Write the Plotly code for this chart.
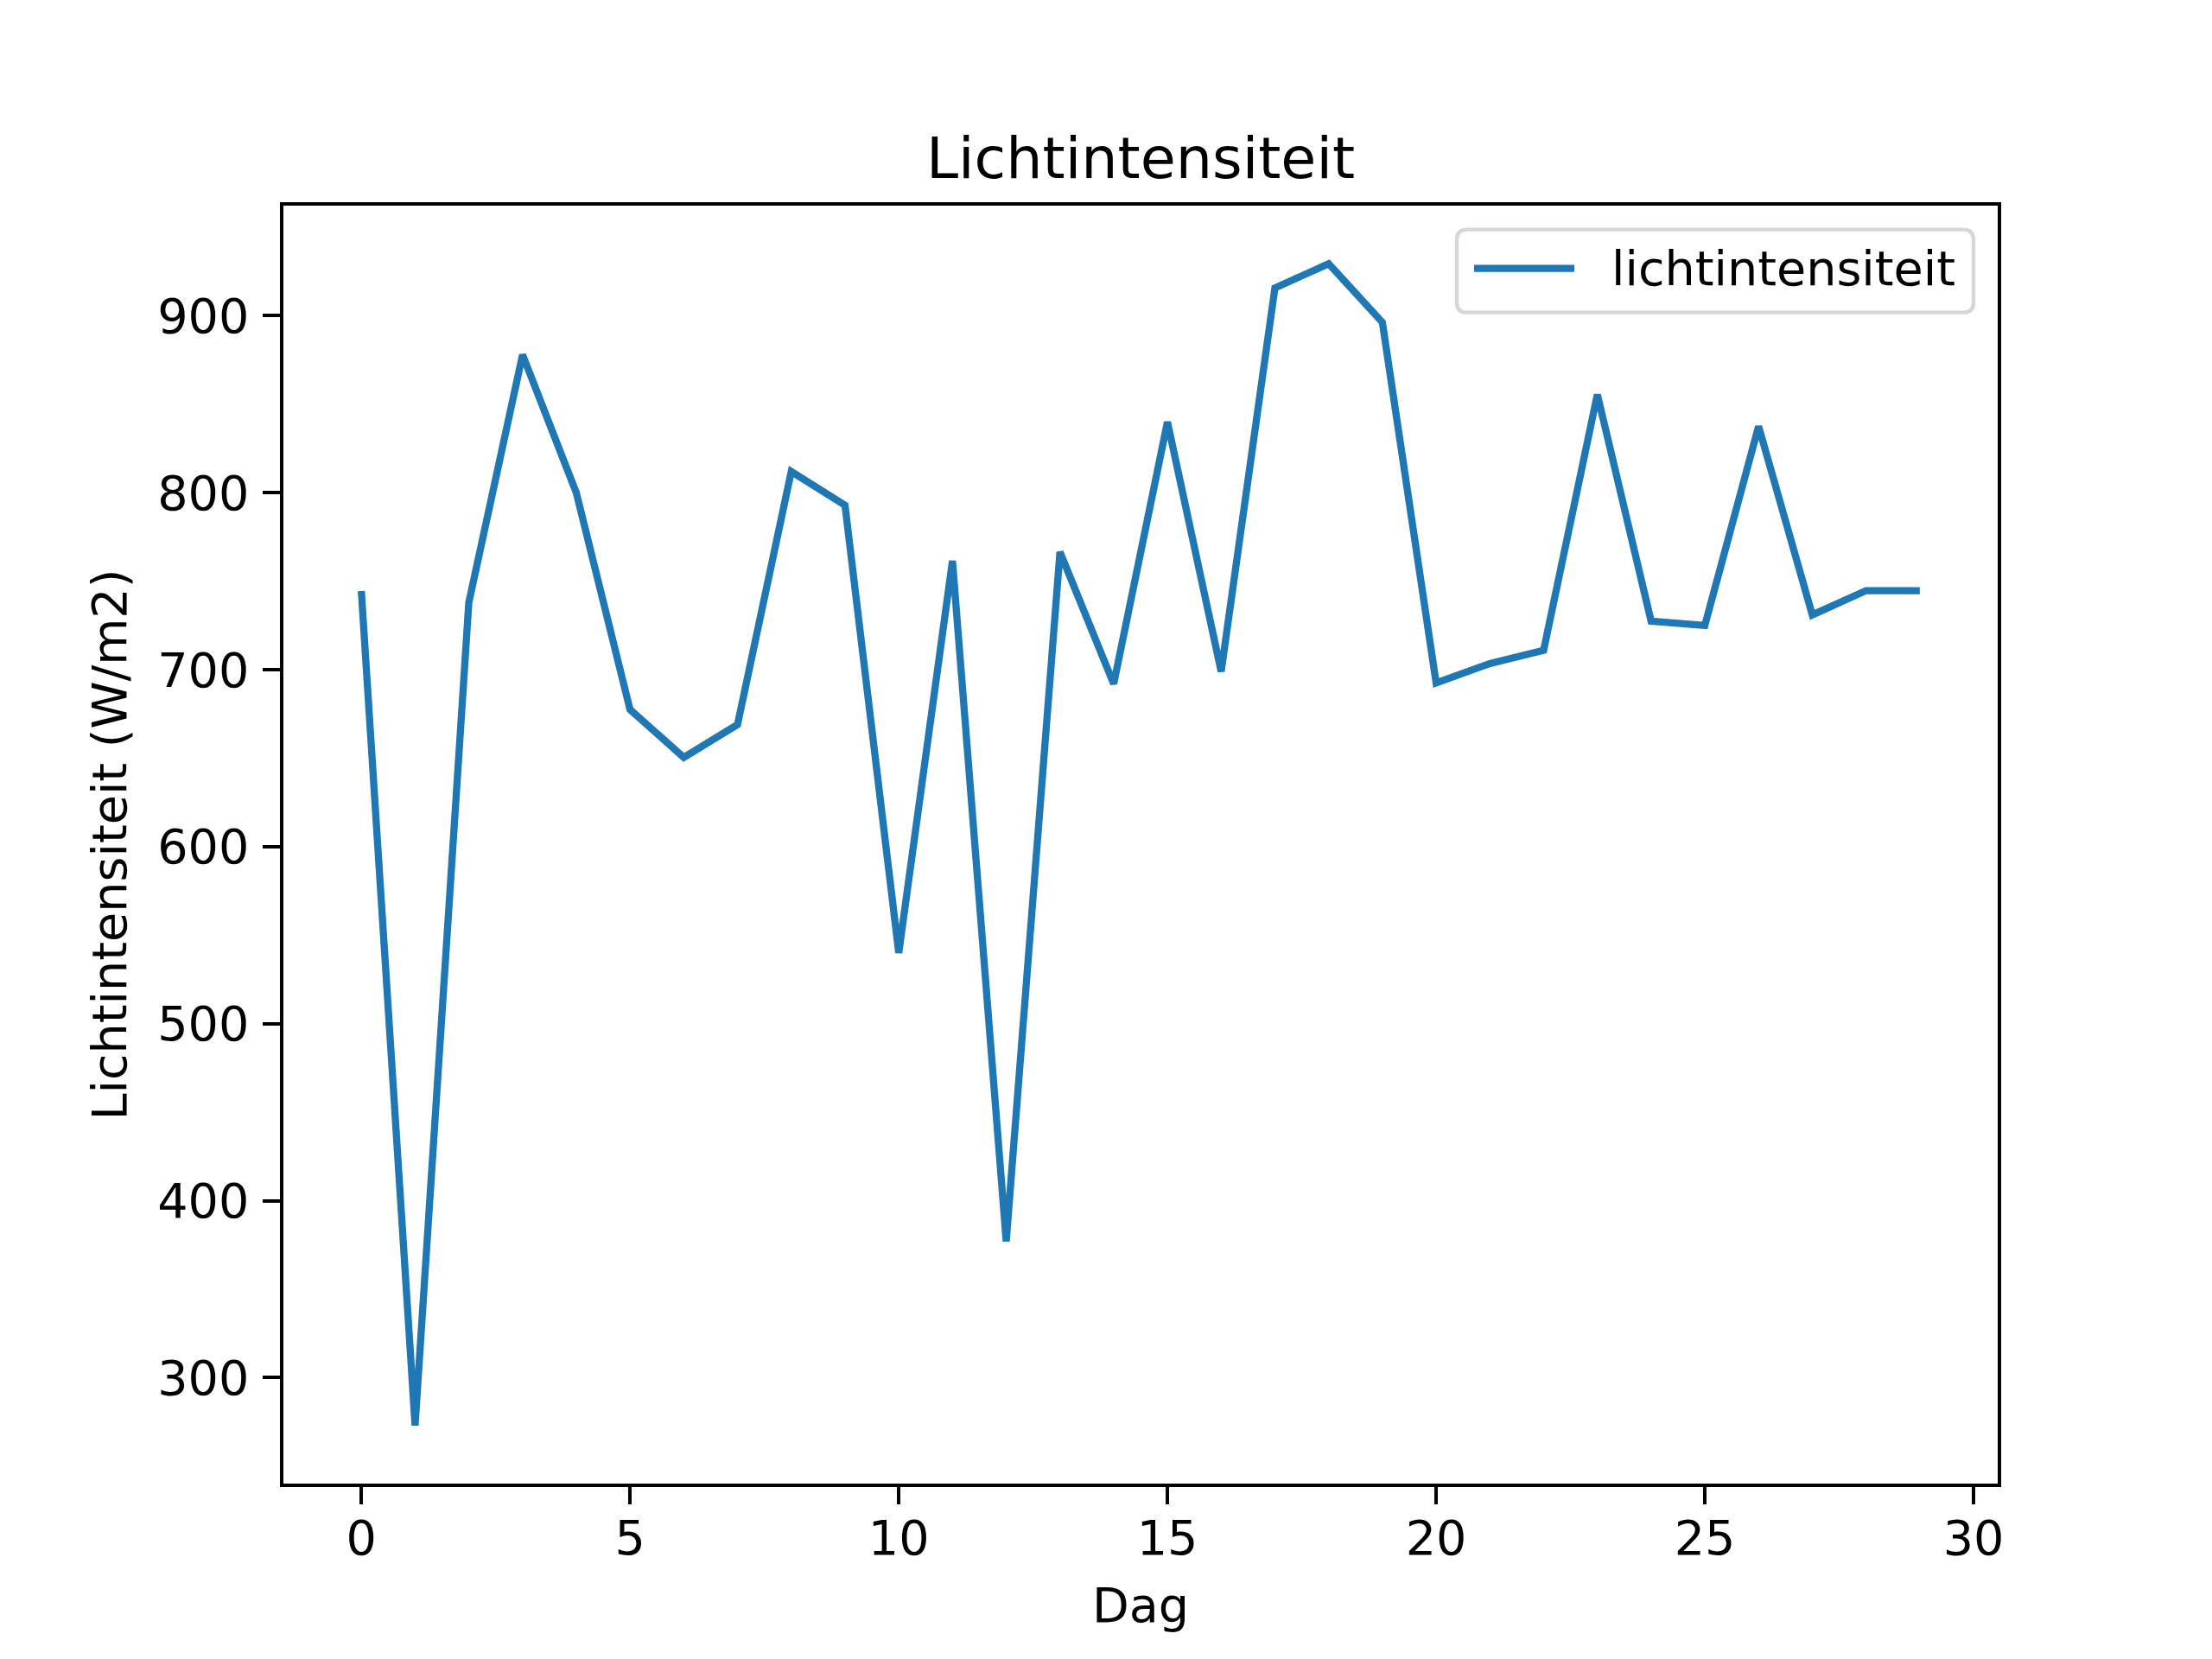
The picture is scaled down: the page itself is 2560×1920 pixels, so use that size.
import plotly.graph_objects as go

dag = list(range(30))
lichtintensiteit = [744.5, 273, 738, 878, 800, 677.5, 650.5, 669, 812, 793,
                    540, 761.5, 377, 766.5, 692, 840, 699, 915.7, 929.4, 896.3,
                    692.5, 703.5, 711, 855.5, 727.5, 725, 837.5, 731, 744.7, 744.7]
x_ticks = [0, 5, 10, 15, 20, 25, 30]
y_ticks = [300, 400, 500, 600, 700, 800, 900]
series_name = "lichtintensiteit"

W, H = 2560, 1920
L, R, T, B = 320, 256, 230.4, 211.2
PW, PH = W - L - R, H - T - B

def px(xp):
    return (xp - L) / PW

def py(yp):
    return (H - B - yp) / PH

FONT = "DejaVu Sans"
BLUE = "#1f77b4"

fig = go.Figure()
fig.add_trace(go.Scatter(x=dag, y=lichtintensiteit, mode="lines", name=series_name,
                         line=dict(color=BLUE, width=8.3), showlegend=False))

ymin, ymax = min(lichtintensiteit), max(lichtintensiteit)
m = (ymax - ymin) * 0.05
axis_common = dict(showline=True, linecolor="black", linewidth=4.4, mirror=True,
                   ticks="outside", ticklen=19.4, tickwidth=4.4, tickcolor="black",
                   showgrid=False, zeroline=False,
                   tickfont=dict(family=FONT, size=55.6, color="black"))

fig.update_xaxes(range=[-1.45, 30.45], tickvals=x_ticks, ticklabelstandoff=-8,
                 title=dict(text="Dag", font=dict(family=FONT, size=55.6, color="black"), standoff=28),
                 **axis_common)
fig.update_yaxes(range=[ymin - m, ymax + m], tickvals=y_ticks, ticklabelstandoff=5,
                 title=dict(text="Lichtintensiteit (W/m2)", font=dict(family=FONT, size=55.6, color="black"), standoff=19),
                 **axis_common)

# legend (matplotlib-style, upper right)
bx0, bx1 = px(1678), px(2276)
by1, by0 = py(258), py(354)
rx, ry = 12 / PW, 12 / PH
path = (f"M {bx0+rx},{by0} L {bx1-rx},{by0} Q {bx1},{by0} {bx1},{by0+ry} "
        f"L {bx1},{by1-ry} Q {bx1},{by1} {bx1-rx},{by1} L {bx0+rx},{by1} "
        f"Q {bx0},{by1} {bx0},{by1-ry} L {bx0},{by0+ry} Q {bx0},{by0} {bx0+rx},{by0} Z")
fig.add_shape(type="path", path=path, xref="paper", yref="paper",
              line=dict(color="#d6d6d6", width=4.4), fillcolor="rgba(255,255,255,0.8)")
ly = py(303)
fig.add_shape(type="line", xref="paper", yref="paper", x0=px(1698), x1=px(1814), y0=ly, y1=ly,
              line=dict(color=BLUE, width=8.3))
fig.add_annotation(x=px(1855), y=ly, xref="paper", yref="paper", text=series_name,
                   showarrow=False, xanchor="left", yanchor="middle",
                   font=dict(family=FONT, size=55.6, color="black"))

fig.update_layout(
    width=W, height=H,
    margin=dict(l=L, r=R, t=T, b=B, autoexpand=False),
    paper_bgcolor="white", plot_bgcolor="white",
    title=dict(text="Lichtintensiteit", x=0.5, xanchor="center", xref="paper",
               y=1, yref="paper", yanchor="bottom", pad=dict(b=32),
               font=dict(family=FONT, size=66.7, color="black")),
)

fig.write_html("out.html")
